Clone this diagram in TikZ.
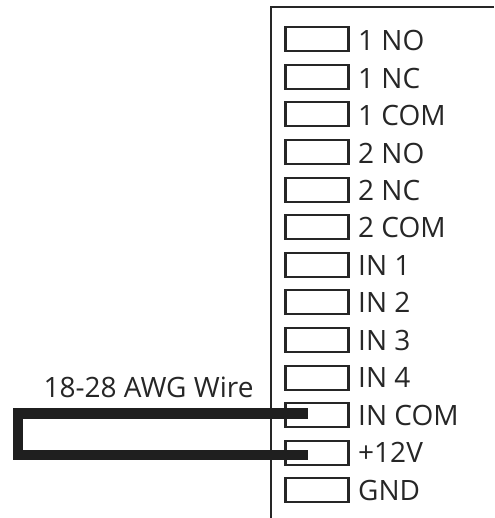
\documentclass[tikz,border=0pt]{standalone}
\usepackage{fontspec}
\setmainfont{Open Sans}
\tikzset{
  term/.style={draw=black!85,line width=2.1pt,minimum width=63pt,minimum height=24pt,inner sep=0pt,outer sep=0pt,anchor=north west},
  lab/.style={anchor=base west,inner sep=0pt,font=\fontsize{28}{30}\selectfont,text=black!85},
  wire/.style={draw=black!88,line width=10.7pt,line cap=butt,line join=miter},
  frame/.style={draw=black!85,line width=2.4pt}
}
\begin{document}
\begin{tikzpicture}[x=1pt,y=-1pt]
\useasboundingbox (0,0) rectangle (494,518);
\coordinate (ftop) at (494,7);
\coordinate (fcorner) at (271,7);
\coordinate (fbot) at (271,518);
\draw[frame] (ftop) -- (fcorner) -- (fbot);
\foreach \n/\t [count=\i from 0] in {a/1 NO,b/1 NC,c/1 COM,d/2 NO,e/2 NC,f/2 COM,g/IN 1,h/IN 2,i/IN 3,j/IN 4,k/IN COM,l/+12V,m/GND}{
  \node[term] (t\n) at (285.5,{27.2+37.6*\i}) {};
  \node[lab] (l\n) at (358,{50.7+37.45*\i}) {\t};
}
\node[inner sep=0pt,anchor=base,font=\fontsize{28}{30}\selectfont,text=black!85] (awg) at (148.5,397) {18-28 AWG Wire};
\coordinate (wa) at (308,413.5);
\coordinate (wb) at (308,455);
\coordinate (wc) at (18,455);
\coordinate (wd) at (18,413.5);
\draw[wire] (wa) -- (wd) -- (wc) -- (wb);
\end{tikzpicture}
\end{document}
